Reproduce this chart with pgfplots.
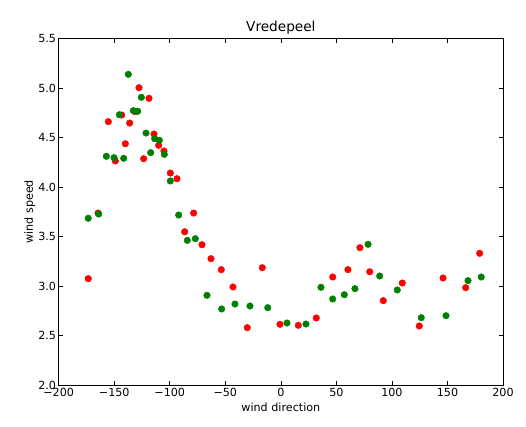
\documentclass[border=0pt]{standalone}
\usepackage{fontspec}
\setmainfont{DejaVu Sans}
\usepackage{pgfplots}
\pgfplotsset{compat=1.18}
\definecolor{mplgreen}{rgb}{0,0.5,0}
\begin{document}
\begin{tikzpicture}
\path[use as bounding box] (-58.7bp,-42bp) rectangle (467.3bp,385bp);
\begin{axis}[
  at={(0,0)}, anchor=south west,
  scale only axis, width=444.3bp, height=346.5bp,
  xmin=-200, xmax=200, ymin=2, ymax=5.5,
  xtick={-200,-150,...,200},
  xticklabels={−200,−150,−100,−50,0,50,100,150,200},
  ytick={2,2.5,3,3.5,4,4.5,5,5.5},
  yticklabels={2.0,2.5,3.0,3.5,4.0,4.5,5.0,5.5},
  tick align=inside, major tick length=4bp,
  every tick/.style={black, line width=0.6pt},
  axis line style={line width=0.8pt},
  ticklabel style={font=\fontsize{11.2}{13}\selectfont},
  xticklabel style={inner sep=2pt, yshift=-1.5bp},
  yticklabel style={inner sep=2.5pt},
  title={Vredepeel},
  title style={font=\fontsize{13.7}{15}\selectfont, at={(axis description cs:0.5,1)}, anchor=center, yshift=5bp},
  xlabel={wind direction},
  xlabel style={font=\fontsize{11.2}{13}\selectfont, at={(axis description cs:0.5,0)}, anchor=center, yshift=-22bp},
  ylabel={wind speed},
  ylabel style={font=\fontsize{11.2}{13}\selectfont, at={(axis description cs:0,0.5)}, anchor=center, yshift=29bp},
]
\addplot[only marks, mark=*, mark size=3.3bp, color=red] coordinates {
(-173.4,3.074) (-164.6,3.737) (-155.3,4.660) (-149,4.263) (-143.3,4.727)
(-140,4.437) (-136.1,4.646) (-131.3,4.761) (-127.7,5.003) (-123.5,4.286)
(-118.7,4.896) (-114.2,4.535) (-110,4.421) (-105.2,4.364) (-99.5,4.141)
(-93.5,4.084) (-86.6,3.548) (-78.5,3.737) (-71,3.417) (-62.9,3.276)
(-53.6,3.165) (-43.1,2.990) (-30.2,2.579) (-16.7,3.185) (-0.8,2.613)
(15.7,2.603) (31.9,2.677) (46.7,3.091) (60.4,3.165) (71.2,3.387)
(80,3.144) (92.2,2.852) (109.3,3.030) (124.6,2.596) (146,3.081)
(166.4,2.983) (179,3.330)
};
\addplot[only marks, mark=*, mark size=3.3bp, color=mplgreen] coordinates {
(-173.4,3.684) (-164,3.727) (-157.1,4.310) (-150.2,4.296) (-145.4,4.730)
(-141.5,4.290) (-137.3,5.138) (-132.8,4.771) (-128.9,4.765) (-125.6,4.906)
(-121.4,4.545) (-117.2,4.347) (-113.6,4.488) (-109.4,4.472) (-104.9,4.330)
(-99.5,4.061) (-92,3.717) (-84.2,3.461) (-77,3.478) (-66.5,2.906)
(-53.3,2.768) (-41.3,2.818) (-27.8,2.798) (-11.8,2.781) (5.5,2.626)
(22.6,2.616) (36.1,2.987) (46.7,2.869) (57.1,2.912) (66.7,2.973)
(78.5,3.421) (89,3.101) (104.8,2.960) (126.4,2.680) (148.7,2.700)
(168.5,3.054) (180.4,3.091)
};
\end{axis}
\end{tikzpicture}
\end{document}
